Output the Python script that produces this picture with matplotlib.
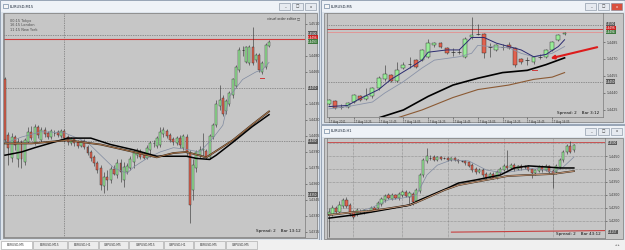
import matplotlib
matplotlib.use("Agg")
import matplotlib.pyplot as plt
from matplotlib.patches import Rectangle

# ---------------- DATA ----------------
# EURUSD M15 (left window)
m15_open = [1.4458, 1.4406, 1.4384, 1.4404, 1.4383, 1.4399, 1.4381, 1.4399, 1.4409, 1.4399,
            1.4413, 1.4401, 1.4411, 1.4408, 1.4404, 1.4408, 1.4409, 1.4405, 1.4410, 1.4404,
            1.4398, 1.4402, 1.4399, 1.4396, 1.4400, 1.4395, 1.4390, 1.4385, 1.4380, 1.4375,
            1.4358, 1.4367, 1.4364, 1.4374, 1.4368, 1.4380, 1.4364, 1.4371, 1.4375, 1.4381,
            1.4387, 1.4391, 1.4387, 1.4384, 1.4392, 1.4398, 1.4396, 1.4397, 1.4407, 1.4410,
            1.4406, 1.4402, 1.4398, 1.4403, 1.4394, 1.4404, 1.4389, 1.4354, 1.4375, 1.4387,
            1.4392, 1.4391, 1.4385, 1.4404, 1.4415, 1.4433, 1.4441, 1.4428, 1.4435, 1.4443,
            1.4452, 1.4467, 1.4486, 1.4474, 1.4473, 1.4488, 1.4476, 1.4481, 1.4465, 1.4470,
            1.4489]
m15_high = [1.4460, 1.4409, 1.4408, 1.4406, 1.4403, 1.4401, 1.4403, 1.4413, 1.4414, 1.4416,
            1.4415, 1.4413, 1.4413, 1.4410, 1.4412, 1.4411, 1.4411, 1.4412, 1.4412, 1.4406,
            1.4404, 1.4403, 1.4401, 1.4401, 1.4402, 1.4397, 1.4392, 1.4387, 1.4382, 1.4378,
            1.4371, 1.4373, 1.4377, 1.4378, 1.4383, 1.4383, 1.4381, 1.4380, 1.4386, 1.4392,
            1.4394, 1.4393, 1.4390, 1.4397, 1.4400, 1.4401, 1.4405, 1.4413, 1.4413, 1.4412,
            1.4408, 1.4404, 1.4405, 1.4406, 1.4407, 1.4407, 1.4392, 1.4383, 1.4392, 1.4396,
            1.4408, 1.4393, 1.4407, 1.4417, 1.4439, 1.4453, 1.4443, 1.4440, 1.4447, 1.4459,
            1.4472, 1.4488, 1.4489, 1.4489, 1.4490, 1.4507, 1.4483, 1.4483, 1.4475, 1.4492,
            1.4495]
m15_low = [1.4399, 1.4378, 1.4381, 1.4392, 1.4376, 1.4375, 1.4378, 1.4398, 1.4401, 1.4397,
           1.4403, 1.4399, 1.4404, 1.4402, 1.4402, 1.4405, 1.4404, 1.4403, 1.4399, 1.4397,
           1.4397, 1.4396, 1.4394, 1.4395, 1.4393, 1.4387, 1.4382, 1.4377, 1.4370, 1.4354,
           1.4352, 1.4354, 1.4361, 1.4368, 1.4366, 1.4362, 1.4357, 1.4369, 1.4373, 1.4375,
           1.4384, 1.4383, 1.4383, 1.4383, 1.4385, 1.4395, 1.4394, 1.4395, 1.4404, 1.4403,
           1.4399, 1.4397, 1.4397, 1.4394, 1.4392, 1.4386, 1.4323, 1.4345, 1.4371, 1.4384,
           1.4385, 1.4383, 1.4383, 1.4402, 1.4413, 1.4429, 1.4424, 1.4426, 1.4433, 1.4441,
           1.4450, 1.4465, 1.4480, 1.4473, 1.4472, 1.4472, 1.4474, 1.4465, 1.4463, 1.4468,
           1.4488]
m15_close = [1.4401, 1.4394, 1.4404, 1.4397, 1.4399, 1.4383, 1.4401, 1.4409, 1.4403, 1.4413,
             1.4406, 1.4411, 1.4407, 1.4404, 1.4410, 1.4408, 1.4406, 1.4410, 1.4403, 1.4399,
             1.4402, 1.4398, 1.4396, 1.4400, 1.4395, 1.4389, 1.4384, 1.4380, 1.4373, 1.4359,
             1.4367, 1.4364, 1.4374, 1.4369, 1.4380, 1.4371, 1.4376, 1.4377, 1.4383, 1.4389,
             1.4392, 1.4385, 1.4384, 1.4394, 1.4398, 1.4398, 1.4403, 1.4409, 1.4411, 1.4405,
             1.4401, 1.4399, 1.4403, 1.4397, 1.4405, 1.4389, 1.4340, 1.4378, 1.4390, 1.4392,
             1.4393, 1.4385, 1.4405, 1.4415, 1.4435, 1.4439, 1.4426, 1.4438, 1.4445, 1.4458,
             1.4470, 1.4486, 1.4486, 1.4488, 1.4488, 1.4473, 1.4481, 1.4467, 1.4473, 1.4490,
             1.4493]
m15_ma_gray_x = [0, 5, 11, 18, 25, 29, 33, 37, 39, 43, 47, 51, 54, 59, 63, 66, 68, 72, 76, 78, 80]
m15_ma_gray = [1.4398, 1.4404, 1.4409, 1.4408, 1.4399, 1.4387, 1.4375, 1.4370, 1.4376, 1.4384, 1.4390,
               1.4394, 1.4393, 1.4390, 1.4403, 1.4415, 1.4442, 1.4458, 1.4465, 1.4467, 1.4474]
m15_ma_brown_x = [0, 8, 19, 29, 39, 46, 51, 55, 61, 69, 75, 80]
m15_ma_brown = [1.4398, 1.4398, 1.4401, 1.4397, 1.4390, 1.4385, 1.4389, 1.4390, 1.4385, 1.4401, 1.4416, 1.4428]
m15_ma_black_x = [0, 5, 9, 19, 26, 32, 39, 46, 55, 58, 62, 64, 69, 75, 80]
m15_ma_black = [1.4387, 1.4390, 1.4394, 1.4403, 1.4403, 1.4397, 1.4392, 1.4386, 1.4386, 1.4384,
                1.4383, 1.4387, 1.4399, 1.4414, 1.4425]
m15_levels = [1.4510, 1.4480, 1.4465, 1.4435, 1.4420, 1.4405, 1.4390, 1.4375,
              1.4360, 1.4345, 1.4330, 1.4315]
m15_pivots = [1.4500, 1.4450, 1.4400, 1.4350]
m15_quotes = [1.4500, 1.4496, 1.4493]
m15_day_sep = 18
m15_mark = (78, 1.4459)

# EURUSD M5 (top right window)
m5_open = [1.4430, 1.4433, 1.4428, 1.4428, 1.4432, 1.4437, 1.4435, 1.4437, 1.4444, 1.4452,
           1.4456, 1.4451, 1.4462, 1.4466, 1.4469, 1.4469, 1.4472, 1.4482, 1.4484, 1.4480,
           1.4476, 1.4476, 1.4472, 1.4489, 1.4492, 1.4492, 1.4481, 1.4478, 1.4481, 1.4482,
           1.4480, 1.4470, 1.4469, 1.4467, 1.4472, 1.4472, 1.4478, 1.4487, 1.4492]
m5_high = [1.4435, 1.4434, 1.4430, 1.4432, 1.4439, 1.4438, 1.4444, 1.4445, 1.4455, 1.4465,
           1.4457, 1.4467, 1.4467, 1.4472, 1.4470, 1.4479, 1.4488, 1.4485, 1.4485, 1.4481,
           1.4480, 1.4479, 1.4489, 1.4507, 1.4501, 1.4493, 1.4484, 1.4483, 1.4483, 1.4485,
           1.4481, 1.4471, 1.4472, 1.4473, 1.4474, 1.4479, 1.4486, 1.4492, 1.4494]
m5_low = [1.4429, 1.4426, 1.4426, 1.4427, 1.4431, 1.4433, 1.4434, 1.4436, 1.4443, 1.4451,
          1.4450, 1.4450, 1.4461, 1.4462, 1.4462, 1.4468, 1.4471, 1.4481, 1.4480, 1.4474,
          1.4473, 1.4474, 1.4471, 1.4488, 1.4491, 1.4471, 1.4472, 1.4477, 1.4478, 1.4479,
          1.4463, 1.4466, 1.4465, 1.4466, 1.4470, 1.4471, 1.4477, 1.4486, 1.4491]
m5_close = [1.4434, 1.4427, 1.4428, 1.4431, 1.4438, 1.4434, 1.4437, 1.4444, 1.4453, 1.4457,
            1.4451, 1.4460, 1.4465, 1.4466, 1.4463, 1.4478, 1.4484, 1.4484, 1.4481, 1.4475,
            1.4476, 1.4476, 1.4488, 1.4491, 1.4492, 1.4475, 1.4481, 1.4482, 1.4481, 1.4480,
            1.4465, 1.4467, 1.4469, 1.4472, 1.4472, 1.4478, 1.4485, 1.4491, 1.4493]
m5_ma_navy_x = [0, 3, 5, 8, 10, 13, 15, 16, 19, 21, 23, 25, 27, 29, 31, 33, 35, 37, 38]
m5_ma_navy = [1.4428, 1.4429, 1.4435, 1.4443, 1.4452, 1.4462, 1.4469, 1.4476, 1.4478, 1.4478,
              1.4489, 1.4489, 1.4484, 1.4481, 1.4478, 1.4472, 1.4474, 1.4481, 1.4487]
m5_ma_gray_x = [0, 3, 7, 9, 12, 15, 17, 21, 23, 24, 26, 29, 31, 33, 36, 38]
m5_ma_gray = [1.4426, 1.4428, 1.4432, 1.4440, 1.4450, 1.4462, 1.4469, 1.4472, 1.4475, 1.4482,
              1.4481, 1.4480, 1.4475, 1.4472, 1.4475, 1.4481]
m5_ma_black_x = [5, 8, 12, 16, 20, 24, 28, 32, 35, 38]
m5_ma_black = [1.4412, 1.4418, 1.4425, 1.4437, 1.4447, 1.4453, 1.4458, 1.4460, 1.4465, 1.4471]
m5_ma_brown_x = [8, 11, 15, 20, 24, 29, 33, 36, 38]
m5_ma_brown = [1.4412, 1.4418, 1.4425, 1.4436, 1.4443, 1.4447, 1.4452, 1.4454, 1.4458]
m5_levels = [1.4485, 1.4470, 1.4455, 1.4440, 1.4425]
m5_pivots = [1.4500, 1.4450]
m5_quotes = [1.4500, 1.4496, 1.4494]
m5_time_idx = [0, 4, 8, 12, 16, 20, 24, 28, 32, 36]
m5_time_labels = ["17 Aug 2011", "17 Aug 13:25", "17 Aug 13:45", "17 Aug 14:05", "17 Aug 14:25",
                  "17 Aug 14:45", "17 Aug 15:05", "17 Aug 15:25", "17 Aug 15:45", "17 Aug 16:05"]
m5_arrow_from = (43.7, 1.4481)
m5_arrow_to = (35.3, 1.4470)
m5_mark = (33.2, 1.4460)

# EURUSD H1 (bottom right window)
h1_open = [1.4223, 1.4227, 1.4250, 1.4234, 1.4258, 1.4281, 1.4261, 1.4234, 1.4227, 1.4238,
           1.4234, 1.4238, 1.4238, 1.4250, 1.4250, 1.4265, 1.4281, 1.4300, 1.4285, 1.4300,
           1.4288, 1.4300, 1.4311, 1.4292, 1.4304, 1.4277, 1.4315, 1.4377, 1.4431, 1.4442,
           1.4446, 1.4435, 1.4446, 1.4442, 1.4442, 1.4435, 1.4442, 1.4435, 1.4431, 1.4431,
           1.4427, 1.4415, 1.4400, 1.4388, 1.4396, 1.4381, 1.4369, 1.4381, 1.4365, 1.4385,
           1.4396, 1.4412, 1.4404, 1.4415, 1.4400, 1.4412, 1.4408, 1.4408, 1.4400, 1.4385,
           1.4392, 1.4408, 1.4396, 1.4412, 1.4392, 1.4388, 1.4408, 1.4435, 1.4465, 1.4489,
           1.4473]
h1_high = [1.4250, 1.4261, 1.4258, 1.4277, 1.4288, 1.4292, 1.4269, 1.4242, 1.4250, 1.4246,
           1.4246, 1.4244, 1.4258, 1.4258, 1.4277, 1.4292, 1.4304, 1.4308, 1.4308, 1.4304,
           1.4311, 1.4319, 1.4319, 1.4315, 1.4311, 1.4327, 1.4385, 1.4442, 1.4481, 1.4454,
           1.4454, 1.4450, 1.4450, 1.4446, 1.4446, 1.4446, 1.4446, 1.4439, 1.4435, 1.4435,
           1.4431, 1.4423, 1.4408, 1.4404, 1.4404, 1.4388, 1.4388, 1.4388, 1.4396, 1.4408,
           1.4419, 1.4473, 1.4423, 1.4423, 1.4415, 1.4419, 1.4415, 1.4415, 1.4404, 1.4400,
           1.4415, 1.4415, 1.4419, 1.4415, 1.4400, 1.4419, 1.4442, 1.4473, 1.4496, 1.4508,
           1.4496]
h1_low = [1.4138, 1.4219, 1.4227, 1.4227, 1.4250, 1.4250, 1.4219, 1.4208, 1.4219, 1.4231,
          1.4227, 1.4233, 1.4234, 1.4238, 1.4242, 1.4258, 1.4273, 1.4285, 1.4281, 1.4285,
          1.4281, 1.4292, 1.4292, 1.4261, 1.4261, 1.4269, 1.4308, 1.4369, 1.4423, 1.4435,
          1.4431, 1.4431, 1.4435, 1.4439, 1.4431, 1.4431, 1.4431, 1.4423, 1.4427, 1.4415,
          1.4408, 1.4388, 1.4381, 1.4385, 1.4369, 1.4362, 1.4365, 1.4362, 1.4362, 1.4381,
          1.4392, 1.4396, 1.4400, 1.4392, 1.4396, 1.4396, 1.4400, 1.4392, 1.4365, 1.4377,
          1.4388, 1.4388, 1.4392, 1.4381, 1.4327, 1.4381, 1.4400, 1.4427, 1.4458, 1.4462,
          1.4465]
h1_close = [1.4234, 1.4250, 1.4234, 1.4261, 1.4281, 1.4258, 1.4227, 1.4215, 1.4242, 1.4238,
            1.4242, 1.4238, 1.4250, 1.4242, 1.4269, 1.4285, 1.4296, 1.4288, 1.4300, 1.4288,
            1.4304, 1.4311, 1.4296, 1.4308, 1.4273, 1.4319, 1.4377, 1.4435, 1.4450, 1.4442,
            1.4435, 1.4446, 1.4439, 1.4442, 1.4435, 1.4442, 1.4435, 1.4431, 1.4431, 1.4423,
            1.4412, 1.4396, 1.4388, 1.4396, 1.4377, 1.4365, 1.4381, 1.4365, 1.4388, 1.4400,
            1.4412, 1.4404, 1.4415, 1.4400, 1.4412, 1.4404, 1.4408, 1.4396, 1.4385, 1.4396,
            1.4408, 1.4396, 1.4412, 1.4388, 1.4381, 1.4412, 1.4435, 1.4465, 1.4489, 1.4465,
            1.4492]
h1_ma_gray_x = [7, 12, 17, 21, 25, 28, 31, 35, 40, 45, 50, 55, 59, 64, 67, 70]
h1_ma_gray = [1.4231, 1.4250, 1.4281, 1.4288, 1.4300, 1.4377, 1.4415, 1.4435, 1.4431, 1.4396,
              1.4385, 1.4396, 1.4404, 1.4388, 1.4408, 1.4446]
h1_ma_brown_x = [0, 7, 12, 23, 26, 33, 37, 45, 51, 57, 64, 70]
h1_ma_brown = [1.4223, 1.4234, 1.4238, 1.4261, 1.4277, 1.4319, 1.4338, 1.4358, 1.4373, 1.4377,
               1.4381, 1.4392]
h1_ma_black_x = [0, 7, 12, 17, 23, 26, 34, 37, 42, 49, 53, 57, 62, 66, 70]
h1_ma_black = [1.4211, 1.4223, 1.4234, 1.4246, 1.4261, 1.4281, 1.4327, 1.4346, 1.4358, 1.4377,
               1.4404, 1.4412, 1.4408, 1.4404, 1.4404]
h1_levels = [1.4500, 1.4450, 1.4400, 1.4350, 1.4300, 1.4250, 1.4200]
h1_grid_x = [7, 21, 34, 50, 64]
h1_low_line_x = [35, 79]
h1_low_line_y = [1.4157, 1.4163]

tabs = ["EURUSD,M5", "EURUSD,M15", "EURUSD,H1", "GBPUSD,M5", "GBPUSD,M15", "GBPUSD,H1",
        "EURUSD,M5", "GBPUSD,M5"]
tab_edges = [0, 32, 67, 98, 128, 163, 193, 225, 257]

# ---------------- STYLE ----------------
W, H = 625, 250
CHART_BG = "#c6c6c6"
FRAME = "#dce3eb"
UP = "#98ec98"
DOWN = "#e2624e"
WICK = "#2a2a2a"
TAG_COLORS = ["#5a5a5a", "#c82020", "#3f7a3f"]

fig = plt.figure(figsize=(6.25, 2.5), dpi=100)
fig.patch.set_facecolor(FRAME)

bg = fig.add_axes([0, 0, 1, 1])
bg.set_xlim(0, W)
bg.set_ylim(H, 0)
bg.axis("off")


def box(x0, y0, x1, y1):
    return [x0 / W, 1 - y1 / H, (x1 - x0) / W, (y1 - y0) / H]


def window(x0, y0, x1, y1, title, red_close=False):
    bg.add_patch(Rectangle((x0, y0), x1 - x0, y1 - y0, fc=FRAME, ec="#8d9bad", lw=0.6))
    bg.add_patch(Rectangle((x0 + 1, y0 + 1), x1 - x0 - 2, 11, fc="#eef2f7", ec="none"))
    bg.add_patch(Rectangle((x0 + 3, y0 + 4), 5, 4, fc="#f6f6f6", ec="#55708f", lw=0.4))
    bg.text(x0 + 10, y0 + 6.5, title, fontsize=2.6, va="center", color="#1c2838")
    for k, glyph in enumerate(["_", "□", "x"]):
        bx = x1 - 40 + k * 13
        fc = "#d9503e" if (red_close and k == 2) else "#e6eaf0"
        bg.add_patch(Rectangle((bx, y0 + 3), 11, 7, fc=fc, ec="#7d8a9a", lw=0.4))
        bg.text(bx + 5.5, y0 + 6.5, glyph, fontsize=2.6, ha="center", va="center",
                color="white" if fc != "#e6eaf0" else "#333")
    bg.add_patch(Rectangle((x0 + 3, y0 + 13), x1 - x0 - 5, y1 - y0 - 15, fc=CHART_BG,
                           ec="#7a7a7a", lw=0.5))


def candles(ax, o, h, l, c, width):
    for i in range(len(o)):
        ax.vlines(i, l[i], h[i], color=WICK, lw=0.4, zorder=3)
        if c[i] == o[i]:
            ax.hlines(c[i], i - width / 2, i + width / 2, color=WICK, lw=0.5, zorder=4)
        else:
            ax.bar(i, abs(c[i] - o[i]), bottom=min(o[i], c[i]), width=width,
                   color=UP if c[i] > o[i] else DOWN, edgecolor=WICK, lw=0.3, zorder=4)


def tag(ax, y, price, fc, tc="white"):
    ax.text(1.01, y, f"{price:.4f}", transform=ax.get_yaxis_transform(), fontsize=2.0,
            color=tc, va="center", ha="left", zorder=10, clip_on=False,
            bbox=dict(boxstyle="square,pad=0.08", fc=fc, ec="none"))


def quote_tags(ax, quotes, step):
    # stacked price boxes (pivot / ask / bid) kept one box apart
    for k, q in enumerate(quotes):
        tag(ax, quotes[0] + 0.0001 - k * step, q, TAG_COLORS[k])


def chart_axes(rect, xlim, ylim, levels):
    ax = fig.add_axes(box(*rect))
    ax.set_facecolor(CHART_BG)
    ax.set_xlim(*xlim)
    ax.set_ylim(*ylim)
    ax.yaxis.tick_right()
    ax.set_yticks(levels)
    ax.set_yticklabels([f"{v:.4f}" for v in levels])
    ax.tick_params(axis="y", labelsize=2.3, length=1.5, width=0.4, pad=1, colors="#3a3a3a")
    ax.set_xticks([])
    for s in ax.spines.values():
        s.set_color("#7a7a7a")
        s.set_linewidth(0.5)
    return ax


def spread(ax, text):
    ax.text(0.985, 0.02, text, transform=ax.transAxes, fontsize=3.0, ha="right", va="bottom",
            color="#111111", zorder=12)


window(0, 0, 319, 240, "EURUSD,M15")
window(321, 0, 625, 124, "EURUSD,M5", red_close=True)
window(321, 125, 625, 241, "EURUSD,H1")

# tab bar
bg.add_patch(Rectangle((0, 240), W, 10, fc="#f0f0f0", ec="none"))
for k, name in enumerate(tabs):
    x0, x1 = tab_edges[k], tab_edges[k + 1]
    fc = "white" if k == 0 else "#ececec"
    bg.add_patch(Rectangle((x0 + 0.5, 241), x1 - x0 - 1, 8, fc=fc, ec="#a0a0a0", lw=0.4))
    bg.text((x0 + x1) / 2, 245, name, fontsize=2.2, ha="center", va="center", color="#333")
bg.text(617, 245, "◂ ▸", fontsize=2.4, ha="center", va="center", color="#666")

# ---- left: M15 ----
ax1 = chart_axes((4, 13, 305, 237), (-0.3, 90.9), (1.43103, 1.45203), m15_levels)
candles(ax1, m15_open, m15_high, m15_low, m15_close, 0.6)
ax1.plot(m15_ma_gray_x, m15_ma_gray, color="#7f8aa0", lw=0.5, zorder=5)
ax1.plot(m15_ma_brown_x, m15_ma_brown, color="#3a2a1a", lw=1.3, zorder=5)
ax1.plot(m15_ma_brown_x, m15_ma_brown, color="#b07a50", lw=0.6, zorder=6)
ax1.plot(m15_ma_black_x, m15_ma_black, color="black", lw=1.1, zorder=5)
for p in m15_pivots:
    ax1.axhline(p, color="#555555", lw=0.5, ls=(0, (1, 1.5)), zorder=2)
ax1.axvline(m15_day_sep, color="#555555", lw=0.5, ls=(0, (1, 1.5)), zorder=2)
ax1.axhline(m15_quotes[1], color="#d03a3a", lw=0.8, zorder=2)
ax1.plot([m15_mark[0] - 0.6, m15_mark[0] + 0.6], [m15_mark[1]] * 2, color="#d03a3a", lw=0.7)
quote_tags(ax1, m15_quotes, 0.00038)
for p in m15_pivots[1:]:
    tag(ax1, p, p, TAG_COLORS[0])
ax1.text(0.02, 0.975, "00:15 Tokyo\n16:15 London\n11:15 New York", transform=ax1.transAxes,
         fontsize=2.5, va="top", ha="left", color="#4a4a4a", linespacing=1.25)
ax1.text(0.985, 0.985, "visual order editor □", transform=ax1.transAxes, fontsize=2.3,
         va="top", ha="right", color="#333")
spread(ax1, "Spread: 2    Bar 13:12")

# ---- top right: M5 ----
ax2 = chart_axes((327, 13, 603, 117), (-0.32, 44.2), (1.44188, 1.45106), m5_levels)
candles(ax2, m5_open, m5_high, m5_low, m5_close, 0.62)
ax2.plot(m5_ma_gray_x, m5_ma_gray, color="#8a93a8", lw=0.6, zorder=5)
ax2.plot(m5_ma_navy_x, m5_ma_navy, color="#2b2b70", lw=0.7, zorder=5)
ax2.plot(m5_ma_brown_x, m5_ma_brown, color="#8b5a34", lw=0.8, zorder=5)
ax2.plot(m5_ma_black_x, m5_ma_black, color="black", lw=1.2, zorder=5)
for p in m5_pivots:
    ax2.axhline(p, color="#555555", lw=0.5, ls=(0, (1, 1.5)), zorder=2)
ax2.axhline(1.44965, color="#c84040", lw=0.7, zorder=2)
ax2.axhline(1.44938, color="#e49090", lw=0.6, zorder=2)
ax2.plot([m5_mark[0] - 0.4, m5_mark[0] + 0.4], [m5_mark[1]] * 2, color="#d03a3a", lw=0.7)
ax2.annotate("", xy=m5_arrow_to, xytext=m5_arrow_from, zorder=9,
             arrowprops=dict(arrowstyle="-|>", color="#dd1c1c", lw=1.5, mutation_scale=5))
quote_tags(ax2, m5_quotes, 0.00035)
tag(ax2, m5_pivots[1], m5_pivots[1], TAG_COLORS[0])
ax2.set_xticks(m5_time_idx)
ax2.set_xticklabels(m5_time_labels, ha="left")
ax2.tick_params(axis="x", labelsize=1.9, length=1.5, width=0.4, pad=0.5, colors="#3a3a3a")
spread(ax2, "Spread: 2    Bar 3:12")

# ---- bottom right: H1 ----
# the top level carries a price box, so its plain label is left off
ax3 = chart_axes((327, 138, 605, 238), (-0.57, 78.9), (1.41344, 1.45194), h1_levels[1:])
for p in h1_levels:
    ax3.axhline(p, color="#666666", lw=0.4, ls=(0, (1, 1.5)), zorder=1)
for gx in h1_grid_x:
    ax3.axvline(gx, color="#666666", lw=0.4, ls=(0, (1, 1.5)), zorder=1)
candles(ax3, h1_open, h1_high, h1_low, h1_close, 0.6)
ax3.plot(h1_ma_gray_x, h1_ma_gray, color="#7f8aa0", lw=0.5, zorder=5)
ax3.plot(h1_ma_brown_x, h1_ma_brown, color="#3a2a1a", lw=1.3, zorder=5)
ax3.plot(h1_ma_brown_x, h1_ma_brown, color="#d0a080", lw=0.6, zorder=6)
ax3.plot(h1_ma_black_x, h1_ma_black, color="black", lw=1.1, zorder=5)
ax3.axhline(1.4504, color="#c84040", lw=0.6, zorder=2)
ax3.plot(h1_low_line_x, h1_low_line_y, color="#c84040", lw=0.8, zorder=2)
tag(ax3, h1_levels[0], h1_levels[0], TAG_COLORS[0])
tag(ax3, 1.4157, 1.4157, TAG_COLORS[0])
spread(ax3, "Spread: 2    Bar 43:12")

fig.savefig("out.png", dpi=100, facecolor=fig.get_facecolor())
